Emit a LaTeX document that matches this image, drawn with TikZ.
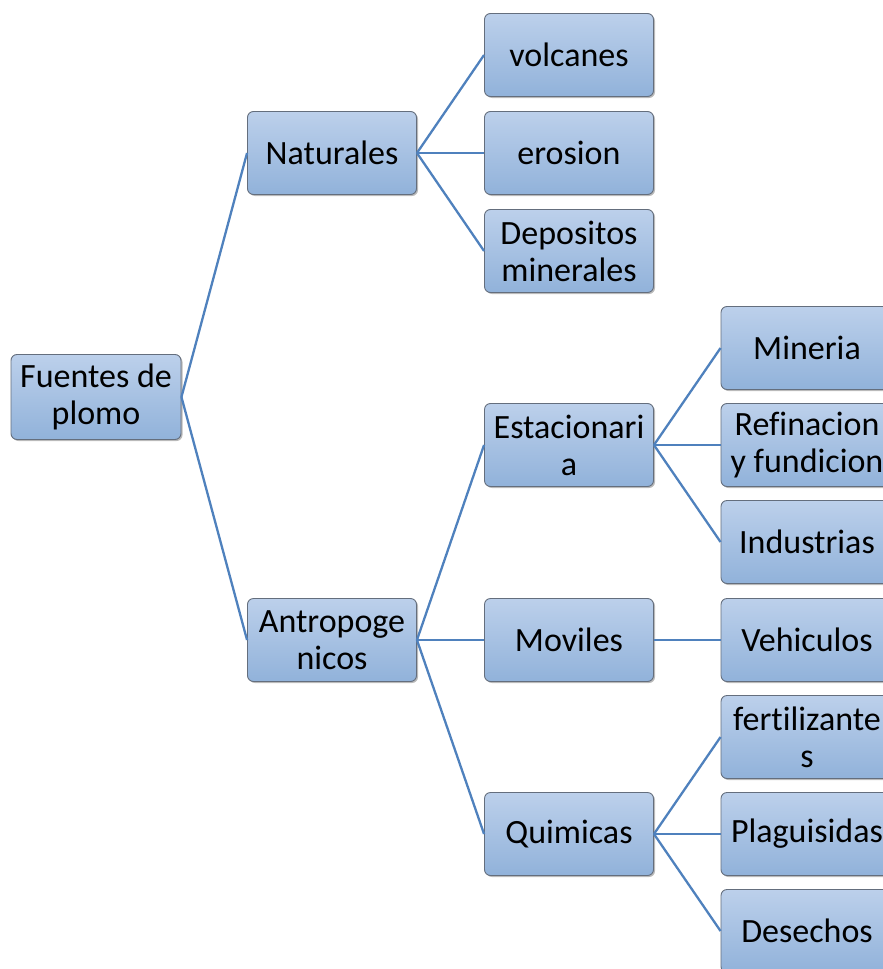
\documentclass[tikz,border=0pt]{standalone}
\usepackage{fontspec}
\setmainfont{Carlito}[Ligatures={NoCommon}]
\usetikzlibrary{shadows}
\definecolor{linkblue}{RGB}{79,129,189}
\definecolor{boxtop}{RGB}{188,208,235}
\definecolor{boxbot}{RGB}{145,178,218}
\definecolor{boxedge}{RGB}{100,110,125}
\tikzset{
  box/.style={rectangle, rounded corners=6pt, draw=boxedge, line width=0.9pt,
    top color=boxtop, bottom color=boxbot,
    drop shadow={shadow xshift=1.5pt, shadow yshift=-1.5pt, opacity=0.45, fill=black!60},
    minimum width=169pt, minimum height=83pt, inner sep=0pt,
    align=center, font=\fontsize{34}{37}\selectfont, text=black},
  wide/.style={box, minimum width=172pt},
  link/.style={draw=linkblue, line width=2.3pt}
}
\begin{document}
\begin{tikzpicture}[x=1pt,y=-1pt]
\useasboundingbox (0,0) rectangle (883,969);
\clip (0,0) rectangle (883,969);
% root
\node[box, minimum width=170pt, minimum height=85pt] (root) at (96,397) {Fuentes de\\plomo};
% level 1
\node[box] (nat) at (332,153) {Naturales};
\node[box] (ant) at (332,640) {Antropoge\\nicos};
% level 2
\node[box] (vol) at (569,55) {volcanes};
\node[box] (ero) at (569,153) {erosion};
\node[box] (dep) at (569,251) {Depositos\\minerales};
\node[box] (est) at (569,445) {Estacionari\\a};
\node[box] (mov) at (569,640) {Moviles};
\node[box] (qui) at (569,834) {Quimicas};
% level 3
\node[wide] (min) at (807,348) {Mineria};
\node[wide] (ref) at (807,445) {Refinacion\\y fundicion};
\node[wide] (ind) at (807,542) {Industrias};
\node[wide] (veh) at (807,640) {Vehiculos};
\node[wide] (fer) at (807,737) {fertilizante\\s};
\node[wide] (pla) at (807,834) {Plaguisidas};
\node[wide] (des) at (807,931) {Desechos};
% connectors
\draw[link] (root.east) -- (nat.west);
\draw[link] (root.east) -- (ant.west);
\draw[link] (nat.east) -- (vol.west);
\draw[link] (nat.east) -- (ero.west);
\draw[link] (nat.east) -- (dep.west);
\draw[link] (ant.east) -- (est.west);
\draw[link] (ant.east) -- (mov.west);
\draw[link] (ant.east) -- (qui.west);
\draw[link] (est.east) -- (min.west);
\draw[link] (est.east) -- (ref.west);
\draw[link] (est.east) -- (ind.west);
\draw[link] (mov.east) -- (veh.west);
\draw[link] (qui.east) -- (fer.west);
\draw[link] (qui.east) -- (pla.west);
\draw[link] (qui.east) -- (des.west);
\end{tikzpicture}
\end{document}
